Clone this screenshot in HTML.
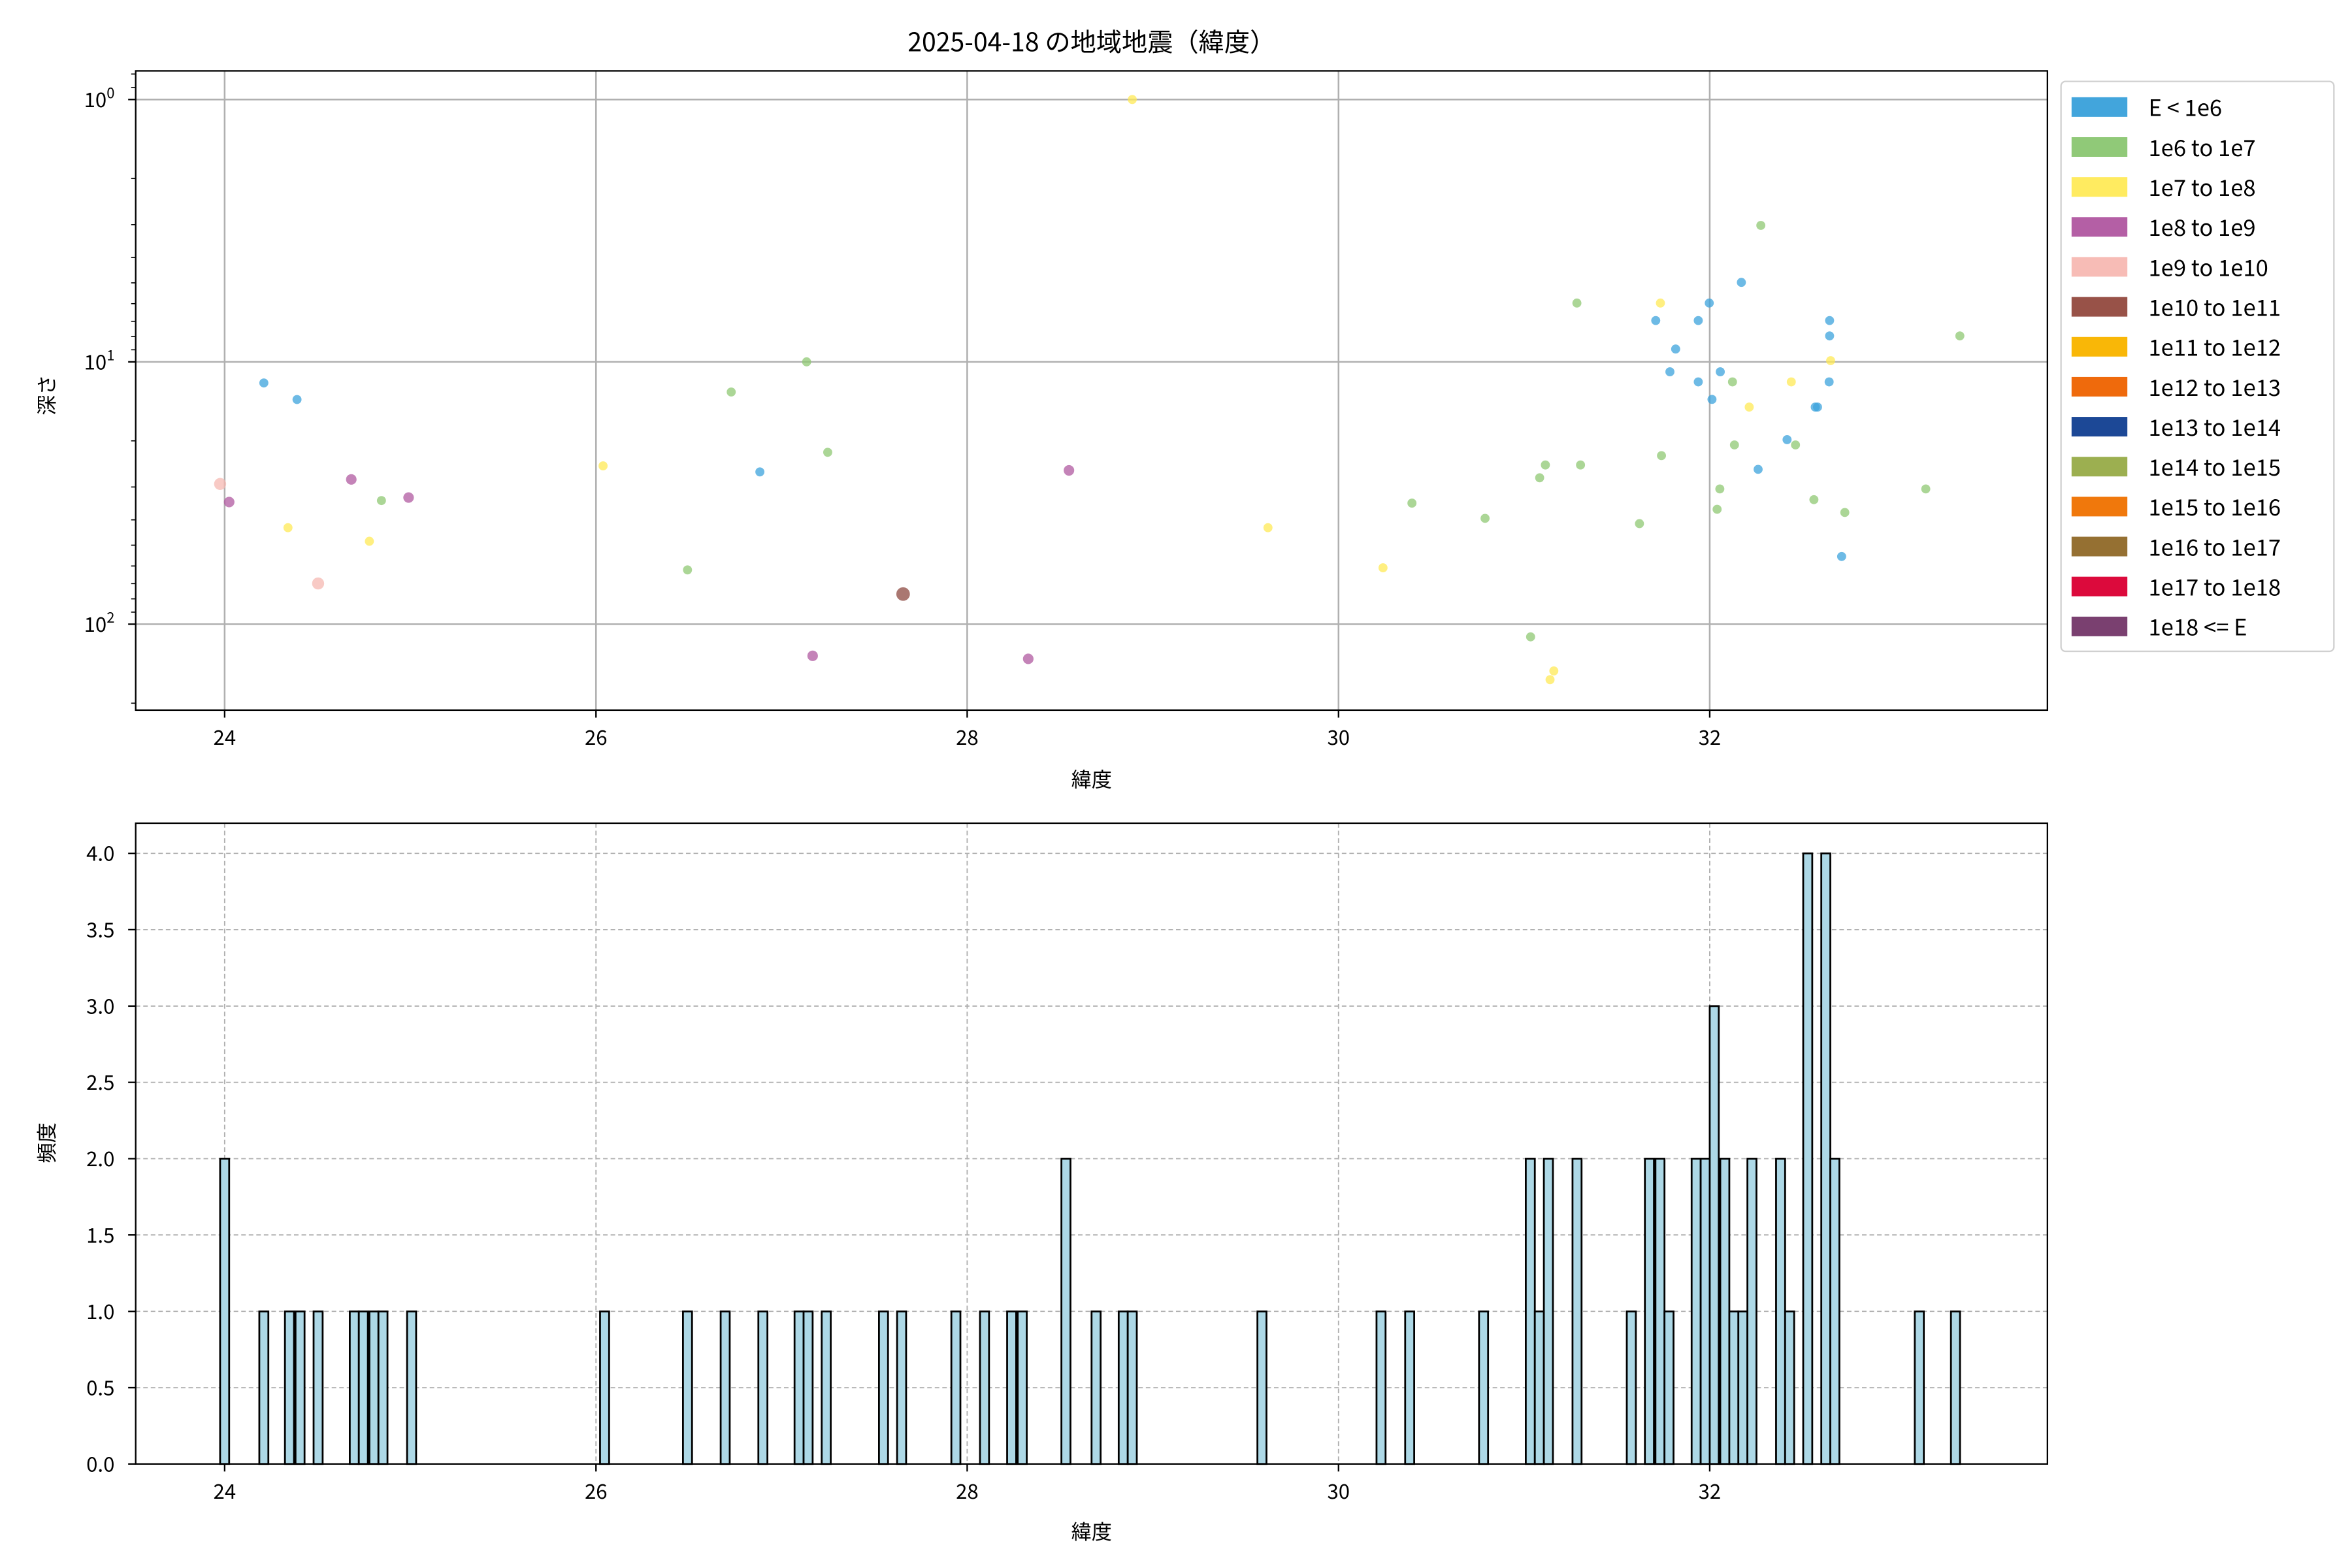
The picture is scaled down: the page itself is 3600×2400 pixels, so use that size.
<!DOCTYPE html>
<html><head><meta charset="utf-8"><style>
html,body{margin:0;padding:0;background:#fff}
svg{display:block}
text{font-family:"Noto Sans CJK JP","Liberation Sans",sans-serif;fill:#000}
</style></head><body>
<svg width="3600" height="2400" viewBox="0 0 1560 1040" xmlns="http://www.w3.org/2000/svg">
<rect width="1560" height="1040" fill="#fff"/>
<text x="724" y="34" font-size="17" text-anchor="middle">2025-04-18 の地域地震（緯度）</text>

<!-- TOP AXES -->
<g stroke="#b0b0b0" stroke-width="1.1">
<line x1="149" y1="47" x2="149" y2="471"/><line x1="395.3" y1="47" x2="395.3" y2="471"/>
<line x1="641.5" y1="47" x2="641.5" y2="471"/><line x1="887.8" y1="47" x2="887.8" y2="471"/>
<line x1="1134" y1="47" x2="1134" y2="471"/>
<line x1="90" y1="66" x2="1358" y2="66"/><line x1="90" y1="240" x2="1358" y2="240"/><line x1="90" y1="414" x2="1358" y2="414"/>
</g>
<g fill-opacity="0.75">
<g fill="#3ca3dc">
<circle cx="175" cy="254" r="3"/><circle cx="197" cy="265" r="3"/><circle cx="504" cy="313" r="3"/>
<circle cx="1133.7" cy="201" r="3"/><circle cx="1098.2" cy="212.6" r="3"/><circle cx="1126.4" cy="212.6" r="3"/>
<circle cx="1213.5" cy="212.6" r="3"/><circle cx="1213.5" cy="222.8" r="3"/><circle cx="1111.4" cy="231.5" r="3"/>
<circle cx="1107.6" cy="246.6" r="3"/><circle cx="1141" cy="246.6" r="3"/><circle cx="1126.4" cy="253.3" r="3"/>
<circle cx="1213.2" cy="253.3" r="3"/><circle cx="1135.5" cy="264.9" r="3"/><circle cx="1204" cy="270" r="3"/>
<circle cx="1205.5" cy="270" r="3"/><circle cx="1185.3" cy="291.6" r="3"/><circle cx="1166.1" cy="311.3" r="3"/>
<circle cx="1221.5" cy="369.1" r="3"/><circle cx="1155" cy="187.3" r="3"/>
</g>
<g fill="#8fc873">
<circle cx="253" cy="332" r="3"/><circle cx="456" cy="378" r="3"/><circle cx="485" cy="260" r="3"/>
<circle cx="535" cy="240" r="3"/><circle cx="549" cy="300" r="3"/>
<circle cx="1045.9" cy="201" r="3"/><circle cx="1299.9" cy="222.8" r="3"/><circle cx="1149.1" cy="253.3" r="3"/>
<circle cx="1150.4" cy="295.1" r="3"/><circle cx="1190.9" cy="295.1" r="3"/><circle cx="1102" cy="302.2" r="3"/>
<circle cx="1025" cy="308.4" r="3"/><circle cx="1048.3" cy="308.4" r="3"/><circle cx="1021.2" cy="316.9" r="3"/>
<circle cx="1140.7" cy="324.3" r="3"/><circle cx="1277.3" cy="324.3" r="3"/><circle cx="936.5" cy="333.7" r="3"/>
<circle cx="985" cy="343.8" r="3"/><circle cx="1087.4" cy="347.3" r="3"/><circle cx="1138.9" cy="337.8" r="3"/>
<circle cx="1203.1" cy="331.4" r="3"/><circle cx="1223.6" cy="339.9" r="3"/><circle cx="1015.2" cy="422.4" r="3"/>
<circle cx="1167.9" cy="149.5" r="3"/>
</g>
<g fill="#ffea55">
<circle cx="191" cy="350" r="3"/><circle cx="245" cy="359" r="3"/><circle cx="400" cy="309" r="3"/>
<circle cx="751" cy="66" r="3"/><circle cx="841" cy="350" r="3"/>
<circle cx="1101.3" cy="201" r="3"/><circle cx="1214.2" cy="239.2" r="3"/><circle cx="1188.1" cy="253.3" r="3"/>
<circle cx="1160.2" cy="270" r="3"/><circle cx="917.3" cy="376.6" r="3"/><circle cx="1030.6" cy="445" r="3"/>
<circle cx="1028.1" cy="450.8" r="3"/>
</g>
<g fill="#b05aa0">
<circle cx="152" cy="333" r="3.5"/><circle cx="233" cy="318" r="3.5"/><circle cx="271" cy="330" r="3.5"/>
<circle cx="539" cy="435" r="3.5"/><circle cx="682" cy="437" r="3.5"/><circle cx="709" cy="312" r="3.5"/>
</g>
<g fill="#f6b8b2"><circle cx="146" cy="321" r="4"/><circle cx="211" cy="387" r="4"/></g>
<circle cx="599" cy="394" r="4.5" fill="#8e4a42"/>
</g>
<rect x="90" y="47" width="1268" height="424" fill="none" stroke="#000" stroke-width="1"/>
<g stroke="#000" stroke-width="1">
<line x1="149" y1="471" x2="149" y2="476"/><line x1="395.3" y1="471" x2="395.3" y2="476"/>
<line x1="641.5" y1="471" x2="641.5" y2="476"/><line x1="887.8" y1="471" x2="887.8" y2="476"/>
<line x1="1134" y1="471" x2="1134" y2="476"/>
<line x1="85" y1="66" x2="90" y2="66"/><line x1="85" y1="240" x2="90" y2="240"/><line x1="85" y1="414" x2="90" y2="414"/>
</g>
<g stroke="#000" stroke-width="0.7">
<line x1="87" y1="49.1" x2="90" y2="49.1"/><line x1="87" y1="58" x2="90" y2="58"/>
<line x1="87" y1="118.4" x2="90" y2="118.4"/><line x1="87" y1="149" x2="90" y2="149"/><line x1="87" y1="170.8" x2="90" y2="170.8"/>
<line x1="87" y1="187.6" x2="90" y2="187.6"/><line x1="87" y1="201.4" x2="90" y2="201.4"/><line x1="87" y1="213.1" x2="90" y2="213.1"/>
<line x1="87" y1="223.2" x2="90" y2="223.2"/><line x1="87" y1="232" x2="90" y2="232"/>
<line x1="87" y1="292.4" x2="90" y2="292.4"/><line x1="87" y1="323" x2="90" y2="323"/><line x1="87" y1="344.8" x2="90" y2="344.8"/>
<line x1="87" y1="361.6" x2="90" y2="361.6"/><line x1="87" y1="375.4" x2="90" y2="375.4"/><line x1="87" y1="387.1" x2="90" y2="387.1"/>
<line x1="87" y1="397.2" x2="90" y2="397.2"/><line x1="87" y1="406" x2="90" y2="406"/><line x1="87" y1="466.4" x2="90" y2="466.4"/>
</g>
<g font-size="13.5" text-anchor="middle">
<text x="149" y="494">24</text><text x="395.3" y="494">26</text><text x="641.5" y="494">28</text>
<text x="887.8" y="494">30</text><text x="1134" y="494">32</text>
<text x="724" y="522">緯度</text>
</g>
<g font-size="13.5" text-anchor="end">
<text x="76" y="71">10<tspan font-size="9.5" dy="-6">0</tspan></text>
<text x="76" y="245">10<tspan font-size="9.5" dy="-6">1</tspan></text>
<text x="76" y="419">10<tspan font-size="9.5" dy="-6">2</tspan></text>
</g>
<text x="0" y="0" font-size="13.5" text-anchor="middle" transform="translate(36,262) rotate(-90)">深さ</text>

<!-- LEGEND -->
<rect x="1367" y="54" width="181" height="378" rx="3" fill="#fff" stroke="#d0d0d0" stroke-width="1"/>
<g>
<rect x="1374" y="64.5" width="37" height="13" fill="#42a5dc"/>
<rect x="1374" y="91" width="37" height="13" fill="#90c978"/>
<rect x="1374" y="117.5" width="37" height="13" fill="#ffeb60"/>
<rect x="1374" y="144" width="37" height="13" fill="#b45fa5"/>
<rect x="1374" y="170.5" width="37" height="13" fill="#f7bcb6"/>
<rect x="1374" y="197" width="37" height="13" fill="#985248"/>
<rect x="1374" y="223.5" width="37" height="13" fill="#f9b707"/>
<rect x="1374" y="250" width="37" height="13" fill="#ef6a0c"/>
<rect x="1374" y="276.5" width="37" height="13" fill="#1c4896"/>
<rect x="1374" y="303" width="37" height="13" fill="#9caf50"/>
<rect x="1374" y="329.5" width="37" height="13" fill="#f0780c"/>
<rect x="1374" y="356" width="37" height="13" fill="#957032"/>
<rect x="1374" y="382.5" width="37" height="13" fill="#dc0a3c"/>
<rect x="1374" y="409" width="37" height="13" fill="#7a4070"/>
</g>
<g font-size="15">
<text x="1425" y="77">E &lt; 1e6</text><text x="1425" y="103.5">1e6 to 1e7</text>
<text x="1425" y="130">1e7 to 1e8</text><text x="1425" y="156.5">1e8 to 1e9</text>
<text x="1425" y="183">1e9 to 1e10</text><text x="1425" y="209.5">1e10 to 1e11</text>
<text x="1425" y="236">1e11 to 1e12</text><text x="1425" y="262.5">1e12 to 1e13</text>
<text x="1425" y="289">1e13 to 1e14</text><text x="1425" y="315.5">1e14 to 1e15</text>
<text x="1425" y="342">1e15 to 1e16</text><text x="1425" y="368.5">1e16 to 1e17</text>
<text x="1425" y="395">1e17 to 1e18</text><text x="1425" y="421.5">1e18 &lt;= E</text>
</g>

<!-- BOTTOM AXES -->
<g stroke="#b0b0b0" stroke-width="0.8" stroke-dasharray="3,2">
<line x1="149" y1="546" x2="149" y2="971"/><line x1="395.3" y1="546" x2="395.3" y2="971"/>
<line x1="641.5" y1="546" x2="641.5" y2="971"/><line x1="887.8" y1="546" x2="887.8" y2="971"/>
<line x1="1134" y1="546" x2="1134" y2="971"/>
<line x1="90" y1="920.4" x2="1358" y2="920.4"/><line x1="90" y1="869.8" x2="1358" y2="869.8"/>
<line x1="90" y1="819.1" x2="1358" y2="819.1"/><line x1="90" y1="768.5" x2="1358" y2="768.5"/>
<line x1="90" y1="717.9" x2="1358" y2="717.9"/><line x1="90" y1="667.3" x2="1358" y2="667.3"/>
<line x1="90" y1="616.6" x2="1358" y2="616.6"/><line x1="90" y1="566" x2="1358" y2="566"/>
</g>
<g fill="#add8e6" stroke="#000" stroke-width="1.2">
<rect x="146" y="768.5" width="6" height="202.5"/>
<rect x="172" y="869.8" width="6" height="101.2"/><rect x="189" y="869.8" width="6" height="101.2"/>
<rect x="196" y="869.8" width="6" height="101.2"/><rect x="208" y="869.8" width="6" height="101.2"/>
<rect x="232" y="869.8" width="6" height="101.2"/><rect x="238" y="869.8" width="6" height="101.2"/>
<rect x="245" y="869.8" width="6" height="101.2"/><rect x="251" y="869.8" width="6" height="101.2"/>
<rect x="270" y="869.8" width="6" height="101.2"/><rect x="398" y="869.8" width="6" height="101.2"/>
<rect x="453" y="869.8" width="6" height="101.2"/><rect x="478" y="869.8" width="6" height="101.2"/>
<rect x="503" y="869.8" width="6" height="101.2"/><rect x="527" y="869.8" width="6" height="101.2"/>
<rect x="533" y="869.8" width="6" height="101.2"/><rect x="545" y="869.8" width="6" height="101.2"/>
<rect x="583" y="869.8" width="6" height="101.2"/><rect x="595" y="869.8" width="6" height="101.2"/>
<rect x="631" y="869.8" width="6" height="101.2"/><rect x="650" y="869.8" width="6" height="101.2"/>
<rect x="668" y="869.8" width="6" height="101.2"/><rect x="675" y="869.8" width="6" height="101.2"/>
<rect x="704" y="768.5" width="6" height="202.5"/><rect x="724" y="869.8" width="6" height="101.2"/>
<rect x="742" y="869.8" width="6" height="101.2"/><rect x="748" y="869.8" width="6" height="101.2"/>
<rect x="834" y="869.8" width="6" height="101.2"/><rect x="913" y="869.8" width="6" height="101.2"/>
<rect x="932" y="869.8" width="6" height="101.2"/><rect x="981" y="869.8" width="6" height="101.2"/>
<rect x="1012" y="768.5" width="6" height="202.5"/><rect x="1018" y="869.8" width="6" height="101.2"/>
<rect x="1024" y="768.5" width="6" height="202.5"/><rect x="1043" y="768.5" width="6" height="202.5"/>
<rect x="1079" y="869.8" width="6" height="101.2"/><rect x="1091" y="768.5" width="6" height="202.5"/>
<rect x="1098" y="768.5" width="6" height="202.5"/><rect x="1104" y="869.8" width="6" height="101.2"/>
<rect x="1122" y="768.5" width="6" height="202.5"/><rect x="1128" y="768.5" width="6" height="202.5"/>
<rect x="1134" y="667.3" width="6" height="303.7"/><rect x="1141" y="768.5" width="6" height="202.5"/>
<rect x="1147" y="869.8" width="6" height="101.2"/><rect x="1153" y="869.8" width="6" height="101.2"/>
<rect x="1159" y="768.5" width="6" height="202.5"/><rect x="1178" y="768.5" width="6" height="202.5"/>
<rect x="1184" y="869.8" width="6" height="101.2"/><rect x="1196" y="566" width="6" height="405"/>
<rect x="1208" y="566" width="6" height="405"/><rect x="1214" y="768.5" width="6" height="202.5"/>
<rect x="1270" y="869.8" width="6" height="101.2"/><rect x="1294" y="869.8" width="6" height="101.2"/>
</g>
<rect x="90" y="546" width="1268" height="425" fill="none" stroke="#000" stroke-width="1"/>
<g stroke="#000" stroke-width="1">
<line x1="149" y1="971" x2="149" y2="976"/><line x1="395.3" y1="971" x2="395.3" y2="976"/>
<line x1="641.5" y1="971" x2="641.5" y2="976"/><line x1="887.8" y1="971" x2="887.8" y2="976"/>
<line x1="1134" y1="971" x2="1134" y2="976"/>
<line x1="85" y1="971" x2="90" y2="971"/><line x1="85" y1="920.4" x2="90" y2="920.4"/>
<line x1="85" y1="869.8" x2="90" y2="869.8"/><line x1="85" y1="819.1" x2="90" y2="819.1"/>
<line x1="85" y1="768.5" x2="90" y2="768.5"/><line x1="85" y1="717.9" x2="90" y2="717.9"/>
<line x1="85" y1="667.3" x2="90" y2="667.3"/><line x1="85" y1="616.6" x2="90" y2="616.6"/>
<line x1="85" y1="566" x2="90" y2="566"/>
</g>
<g font-size="13.5" text-anchor="middle">
<text x="149" y="994">24</text><text x="395.3" y="994">26</text><text x="641.5" y="994">28</text>
<text x="887.8" y="994">30</text><text x="1134" y="994">32</text>
<text x="724" y="1021">緯度</text>
</g>
<g font-size="13.5" text-anchor="end">
<text x="76" y="976">0.0</text><text x="76" y="925.4">0.5</text><text x="76" y="874.8">1.0</text>
<text x="76" y="824.1">1.5</text><text x="76" y="773.5">2.0</text><text x="76" y="722.9">2.5</text>
<text x="76" y="672.3">3.0</text><text x="76" y="621.6">3.5</text><text x="76" y="571">4.0</text>
</g>
<text x="0" y="0" font-size="13.5" text-anchor="middle" transform="translate(36,758) rotate(-90)">頻度</text>
</svg>
</body></html>
